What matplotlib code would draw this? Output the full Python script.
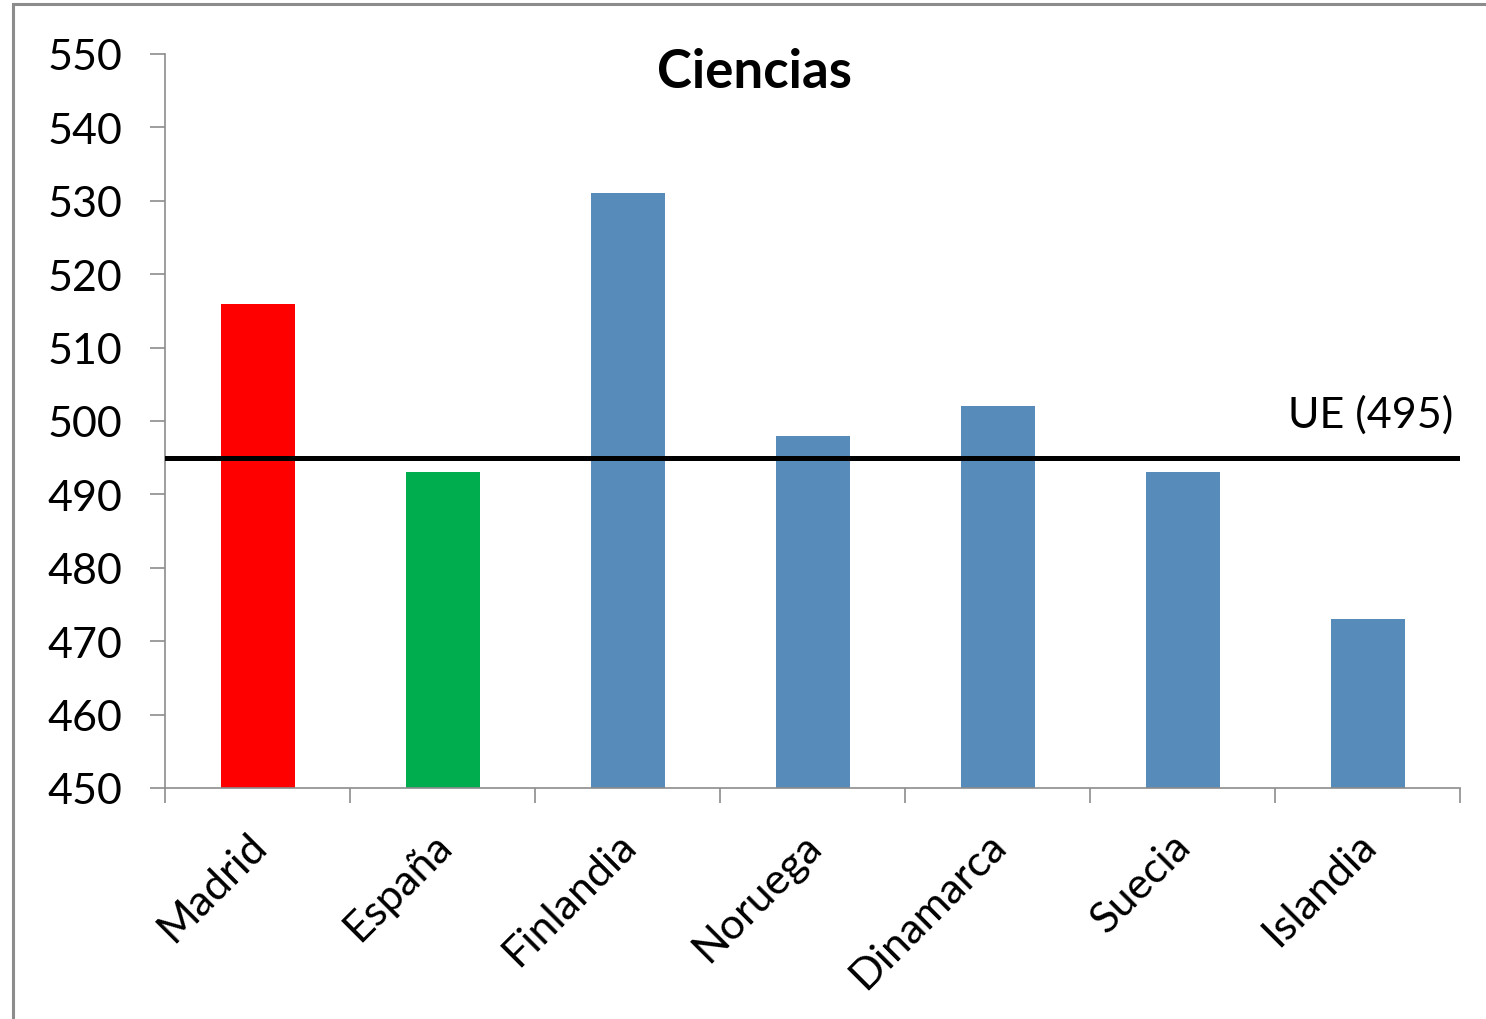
import matplotlib
matplotlib.use("Agg")
import matplotlib.pyplot as plt
from matplotlib.patches import Rectangle

# PISA science scores
countries = ["Madrid", "España", "Finlandia", "Noruega", "Dinamarca", "Suecia", "Islandia"]
scores = [516, 493, 531, 498, 502, 493, 473]
bar_colors = ["#FF0000", "#00AD4E", "#568BBA", "#568BBA", "#568BBA", "#568BBA", "#568BBA"]
eu_mean = 495
y_ticks = [450, 460, 470, 480, 490, 500, 510, 520, 530, 540, 550]

plt.rcParams["font.family"] = ["Lato", "DejaVu Sans"]

W, H = 1486, 1020
fig = plt.figure(figsize=(W / 100, H / 100), dpi=100)
ax = fig.add_axes([165 / W, 1 - 789 / H, (1460 - 165) / W, (789 - 55) / H])

# outer chart frame (only top and left edges fall inside the image)
fig.patches.append(Rectangle((13 / W, -0.1), 1.2, 1.1 - 5 / H, transform=fig.transFigure,
                             fill=False, edgecolor="#8c8c8c", linewidth=2.2))

x = range(len(countries))
ax.bar(x, [s - 450 for s in scores], bottom=450, width=0.4, color=bar_colors, zorder=2)

ax.set_xlim(-0.5, len(countries) - 0.5)
ax.set_ylim(450, 550)
ax.set_yticks(y_ticks)
ax.tick_params(axis="y", direction="out", length=11, width=1.2, color="#8c8c8c",
               labelsize=31, pad=20)

# category ticks sit between the bars, labels centered under the bars
ax.set_xticks([i - 0.5 for i in range(len(countries) + 1)])
ax.set_xticklabels([])
ax.tick_params(axis="x", direction="out", length=11, width=1.2, color="#8c8c8c")
for i, name in enumerate(countries):
    ax.annotate(name, xy=(i, 450), xycoords="data", xytext=(-8, -27),
                textcoords="offset points", rotation=45, ha="right", va="top",
                rotation_mode="anchor", fontsize=31)

for side in ["top", "right"]:
    ax.spines[side].set_visible(False)
for side in ["left", "bottom"]:
    ax.spines[side].set_color("#8c8c8c")
    ax.spines[side].set_linewidth(1.2)

# EU average line
ax.axhline(eu_mean, color="black", linewidth=3.6, zorder=3)
ax.text(0.995, eu_mean + 3.2, f"UE ({eu_mean})", transform=ax.get_yaxis_transform(),
        ha="right", va="bottom", fontsize=31)

ax.text(0.455, 1.01, "Ciencias", transform=ax.transAxes, ha="center", va="top",
        fontsize=38, fontweight="bold")

fig.savefig("out.png", dpi=100, facecolor="white")
